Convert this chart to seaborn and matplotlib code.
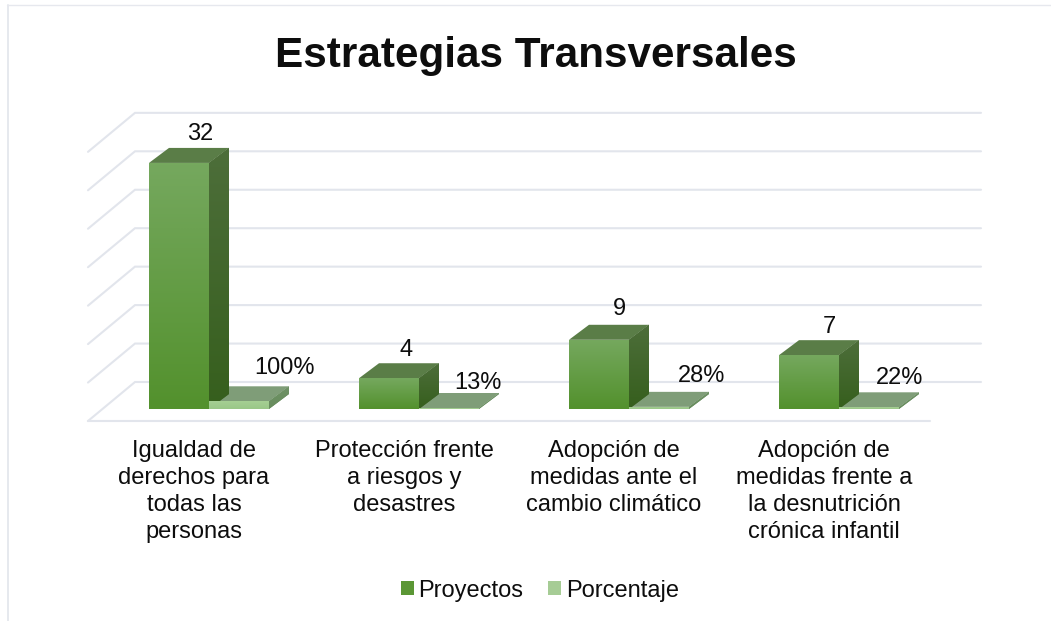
import numpy as np
import pandas as pd
import matplotlib
matplotlib.use("Agg")
import matplotlib.pyplot as plt
from matplotlib.lines import Line2D
from matplotlib.patches import Polygon
from matplotlib.transforms import ScaledTranslation
from matplotlib.colors import LinearSegmentedColormap
import seaborn as sns

# ---- data ----
categories = [
    "Igualdad de\nderechos para\ntodas las\npersonas",
    "Protección frente\na riesgos y\ndesastres",
    "Adopción de\nmedidas ante el\ncambio climático",
    "Adopción de\nmedidas frente a\nla desnutrición\ncrónica infantil",
]
proyectos = [32, 4, 9, 7]
porcentaje = [1.00, 0.13, 0.28, 0.22]
series_names = ["Proyectos", "Porcentaje"]
title = "Estrategias Transversales"
grid_levels = [0, 5, 10, 15, 20, 25, 30, 35]

# ---- style ----
W, H = 1051, 621
PX_X = 210.0      # pixels per category
PX_Y = 7.69       # pixels per value unit
X0_PX, Y0_PX = 209.0, 409.0  # pixel of category 0 centre / value 0
DX, DY = 20 / PX_X, 15 / PX_Y  # bar depth in data units
TXT = "#0d0d0d"
GRID = "#e2e5ec"
FRONT = {"Proyectos": ("#75a85e", "#53912d"), "Porcentaje": ("#a5cf93", "#9ac788")}
SIDE = {"Proyectos": ("#4d6e3a", "#365f1d"), "Porcentaje": ("#6f9266", "#678c5c")}
TOP = {"Proyectos": "#5a7d47", "Porcentaje": "#7f9d78"}
LEGEND = {"Proyectos": "#5b9735", "Porcentaje": "#a6cc95"}
# pixel nudges of the value labels relative to the bar centre / top
nudge_p = [(21, 29), (17, 28), (20, 31), (20, 28)]
nudge_q = [(45, 33), (29, 25), (43, 31), (31, 29)]

sns.set_style("white")
plt.rcParams["font.family"] = ["Liberation Sans", "DejaVu Sans"]

fig = plt.figure(figsize=(W / 100, H / 100), dpi=100, facecolor="white")
ax = fig.add_axes([88 / W, (H - 421) / H, (981 - 88) / W, (421 - 113) / H])

df = pd.DataFrame({
    "cat": categories * 2,
    "serie": np.repeat(series_names, len(categories)),
    "valor": proyectos + porcentaje,
})
sns.barplot(data=df, x="cat", y="valor", hue="serie", hue_order=series_names,
            palette=LEGEND, width=120 / PX_X, gap=0, dodge=True, saturation=1,
            linewidth=0, ax=ax, zorder=3)

xlim = ((88 - X0_PX) / PX_X, (981 - X0_PX) / PX_X)
ylim = ((Y0_PX - 421) / PX_Y, (Y0_PX - 113) / PX_Y)

# wall / floor lines
back_x = (135 - X0_PX) / PX_X
back_dy = (Y0_PX - 382) / PX_Y
for lv in grid_levels:
    ax.plot([xlim[0], back_x, xlim[1]],
            [lv + ylim[0], lv + back_dy, lv + back_dy],
            color=GRID, lw=1.5, zorder=1, solid_joinstyle="miter", clip_on=False)
ax.plot([xlim[0], (930 - X0_PX) / PX_X], [ylim[0], ylim[0]],
        color=GRID, lw=1.5, zorder=1, clip_on=False)


def gradient(artist, extent, colors, z):
    cmap = LinearSegmentedColormap.from_list("g", colors)
    im = ax.imshow(np.linspace(0, 1, 64).reshape(-1, 1), cmap=cmap, aspect="auto",
                   extent=extent, origin="upper", zorder=z, interpolation="bilinear")
    im.set_clip_path(artist)


bars = [b for c in ax.containers for b in c]
names = [s for s in series_names for _ in categories]
for bar, name in zip(bars, names):
    x0, w, h = bar.get_x(), bar.get_width(), bar.get_height()
    x1 = x0 + w
    z = 3 + x0 * 0.01
    bar.set_zorder(z + 0.2)
    gradient(bar, (x0, x1, 0, h), FRONT[name], z + 0.3)
    top = Polygon([(x0, h), (x1, h), (x1 + DX, h + DY), (x0 + DX, h + DY)],
                  closed=True, fc=TOP[name], ec="none", zorder=z)
    ax.add_patch(top)
    side = Polygon([(x1, 0), (x1 + DX, DY), (x1 + DX, h + DY), (x1, h)],
                   closed=True, fc=SIDE[name][0], ec="none", zorder=z + 0.1)
    ax.add_patch(side)
    gradient(side, (x1, x1 + DX, 0, h + DY), SIDE[name], z + 0.15)

# value labels
for c, vals, nudges, fmt in [
    (ax.containers[0], proyectos, nudge_p, "{:d}"),
    (ax.containers[1], porcentaje, nudge_q, None),
]:
    for bar, v, (nx, ny) in zip(c, vals, nudges):
        label = fmt.format(v) if fmt else f"{round(v * 100):d}%"
        ax.annotate(label, (bar.get_x() + bar.get_width() / 2, bar.get_height()),
                    xytext=(nx, ny), textcoords="offset pixels", ha="center", va="center",
                    fontsize=17, color=TXT, zorder=10, annotation_clip=False)

ax.set_xlim(*xlim)
ax.set_ylim(*ylim)
ax.set_xlabel("")
ax.set_ylabel("")
ax.set_yticks([])
ax.set_xticks(range(len(categories)))
ax.set_xticklabels(categories, fontsize=17, color=TXT, linespacing=1.29)
ax.tick_params(axis="x", length=0, pad=13.5)
shift = ScaledTranslation(-15 / 100, 0, fig.dpi_scale_trans)
for lab in ax.get_xticklabels():
    lab.set_transform(lab.get_transform() + shift)
sns.despine(ax=ax, left=True, bottom=True)
ax.patch.set_alpha(0)

sns.move_legend(ax, "center", bbox_to_anchor=(540 / W, (H - 590.5) / H),
                bbox_transform=fig.transFigure, ncol=2, frameon=False, title=None,
                fontsize=17, handlelength=0.55, handleheight=0.55, handletextpad=0.21,
                columnspacing=1.05, labelcolor=TXT)

fig.text(536 / W, (H - 55.5) / H, title, ha="center", va="center",
         fontsize=30.4, fontweight="bold", color=TXT)

# chart frame
fig.add_artist(Line2D([7.5 / W, 7.5 / W], [0, (H - 5) / H], color="#e6e9ee", lw=1.4))
fig.add_artist(Line2D([7 / W, 1.0], [(H - 5) / H, (H - 5) / H], color="#e6e8ee", lw=1.0))

fig.savefig("out.png", dpi=100)
